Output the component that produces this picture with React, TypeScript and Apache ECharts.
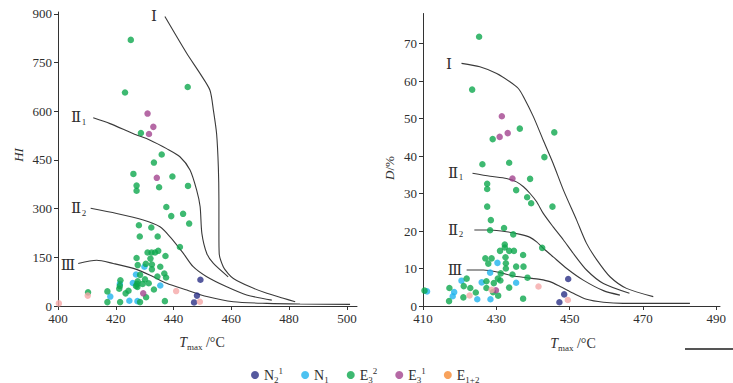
import React, { useEffect, useRef } from 'react';
import * as echarts from 'echarts';

// ---------- data ----------
const groupNames = ['N2¹', 'N1', 'E3²', 'E3¹', 'E1+2'];
const pointColors = ['#2b2f86', '#1fb3ee', '#0ea84e', '#a2438e', '#f5a8a8'];
const legendColors = ['#2b2f86', '#1fb3ee', '#0ea84e', '#a2438e', '#f68b33'];

// Left: HI vs Tmax
const hiN21 = [[449.3, 81], [448.1, 32], [447.1, 11]];
const hiN1 = [[427.0, 97], [429.9, 121], [425.9, 71], [421.4, 68], [435.4, 63], [418.1, 29], [424.7, 16], [427.5, 15]];
const hiE32 = [
  [425.2, 820], [423.2, 658], [444.9, 675], [428.7, 533], [435.9, 467], [433.2, 442], [426.1, 407], [439.6, 399],
  [427.2, 371], [427.2, 355], [435.0, 366], [445.0, 370], [437.5, 305], [443.3, 284], [439.2, 277], [445.4, 254],
  [428.0, 249], [432.3, 242], [428.3, 214], [434.5, 214], [442.2, 182], [431.0, 165], [432.4, 165], [433.6, 165],
  [434.7, 170], [437.2, 154], [427.2, 148], [432.0, 146], [435.4, 121], [432.5, 128], [427.6, 126], [430.4, 130],
  [432.5, 113], [436.8, 100], [428.4, 96], [434.4, 91], [437.4, 88], [430.1, 82], [421.6, 79], [427.6, 76],
  [431.4, 70], [429.3, 68], [427.4, 68], [427.5, 59], [427.0, 62], [421.4, 62], [421.2, 53], [433.2, 51],
  [424.4, 47], [423.4, 39], [417.1, 45], [410.4, 42], [430.5, 27], [417.1, 12], [421.5, 12], [428.4, 12], [437.0, 15]
];
const hiE31 = [[431.0, 593], [433.0, 552], [431.5, 530], [434.2, 395], [429.5, 39]];
const hiE12 = [[400.3, 8], [410.3, 32], [440.9, 46], [449.1, 13]];

// Right: D vs Tmax
const dN21 = [[449.6, 7.2], [448.5, 3.1], [447.2, 1.0]];
const dN1 = [[430.3, 11.5], [428.3, 8.9], [420.5, 6.75], [426.0, 6.3], [435.4, 6.2], [411.1, 3.9], [418.5, 3.7], [418.1, 2.6], [424.8, 1.8], [428.4, 1.8]];
const dE32 = [
  [425.3, 71.8], [423.4, 57.7], [436.4, 47.3], [445.8, 46.3], [429.0, 44.5], [443.1, 39.7], [426.2, 37.8], [433.5, 38.2],
  [439.2, 33.9], [427.5, 32.6], [427.5, 31.2], [435.4, 30.9], [438.4, 29.0], [439.5, 27.4], [445.3, 26.5], [427.5, 26.5],
  [428.5, 22.9], [432.1, 20.8], [428.3, 20.2], [434.6, 19.1], [442.5, 15.5], [432.3, 16.4], [432.3, 15.6], [431.0, 14.7],
  [433.5, 14.7], [434.8, 14.7], [437.3, 13.6], [427.0, 12.7], [428.7, 12.7], [432.5, 13.0], [432.6, 11.4], [427.8, 11.3],
  [437.4, 10.5], [435.4, 10.5], [432.6, 10.0], [431.2, 8.7], [434.4, 8.4], [438.5, 7.55], [430.4, 7.3], [431.1, 6.8],
  [427.3, 6.6], [421.9, 7.3], [429.3, 6.1], [421.1, 5.3], [417.2, 4.8], [422.9, 4.8], [427.3, 4.8], [433.5, 4.9],
  [410.4, 4.1], [429.1, 3.7], [424.4, 3.6], [430.5, 2.75], [421.0, 2.3], [437.3, 1.95], [417.1, 1.3]
];
const dE31 = [[431.5, 50.6], [433.1, 46.1], [430.9, 45.1], [434.4, 34.0], [429.9, 4.2]];
const dE12 = [[422.7, 2.8], [441.5, 5.2], [449.5, 1.6], [428.7, 4.3]];

// Boundary curves
const hiCurveI = [[437.0, 892], [444.6, 778], [449.2, 716], [452.6, 665], [453.8, 603], [454.9, 531], [455.5, 429], [455.7, 326], [455.7, 224], [455.8, 162], [457.2, 121], [458.9, 100], [460.7, 85], [466.5, 59], [472.3, 39], [478.0, 24], [482.1, 13]];
const hiCurveII1 = [[412.2, 580], [418.0, 562], [426.1, 531], [431.9, 511], [437.6, 485], [442.2, 460], [445.7, 419], [448.0, 357], [449.2, 306], [449.8, 224], [451.5, 162], [453.8, 131], [458.9, 90]];
const hiCurveII2 = [[411.3, 301], [420.3, 285], [429.5, 265], [435.3, 244], [438.8, 213], [443.4, 162], [446.8, 121], [451.5, 90], [458.4, 59], [465.3, 34], [474.0, 18]];
const hiCurveIII = [[407.0, 131], [413.4, 141], [419.1, 131], [426.1, 116], [431.9, 95], [437.6, 70], [444.6, 49], [451.5, 29], [460.7, 13], [472.3, 8], [483.8, 6], [501.1, 5]];

const dCurveI = [[420.5, 64.7], [425.5, 63.8], [430.1, 62.0], [433.7, 59.8], [436.0, 58.0], [437.4, 55.8], [440.1, 50.5], [442.8, 44.2], [445.5, 38.0], [448.3, 30.9], [451.9, 22.9], [454.6, 16.7], [457.4, 12.3], [461.0, 7.8], [465.5, 4.7], [472.8, 2.5]];
const dCurveII1 = [[423.5, 35.4], [428.3, 34.6], [432.8, 34.0], [435.5, 33.1], [437.4, 31.8], [439.2, 30.0], [441.0, 27.8], [442.8, 24.7], [445.5, 21.1], [448.3, 17.6], [451.0, 14.0], [454.6, 9.6], [459.2, 6.0], [466.3, 3.4]];
const dCurveII2 = [[424.0, 20.25], [428.3, 20.25], [432.8, 19.8], [436.5, 19.1], [439.2, 18.3], [441.0, 17.1], [442.8, 15.4], [445.5, 13.1], [449.2, 10.0], [453.7, 6.9], [459.2, 4.1], [463.7, 2.9]];
const dCurveIII = [[421.9, 9.6], [426.5, 9.6], [431.0, 8.9], [434.6, 8.0], [438.3, 7.55], [441.9, 7.1], [444.6, 6.5], [447.4, 5.2], [451.0, 3.4], [454.6, 1.8], [459.2, 1.0], [464.6, 0.7], [482.8, 0.7]];

const hiTicksX = [400, 420, 440, 460, 480, 500];
const hiTicksY = [0, 150, 300, 450, 600, 750, 900];
const dTicksX = [410, 430, 450, 470, 490];
const dTicksY = [0, 10, 20, 30, 40, 50, 60, 70];

const legendRich: Record<string, string> = {
  'N2¹': '{m|N}{sb|2}{sp|1}',
  'N1': '{m|N}{sb|1}',
  'E3²': '{m|E}{sb|3}{sp|2}',
  'E3¹': '{m|E}{sb|3}{sp|1}',
  'E1+2': '{m|E}{sb|1+2}',
};

const SERIF = "'Liberation Serif', 'DejaVu Serif', serif";
const TXT = '#2e2e2e';

export default function App() {
  const ref = useRef<HTMLDivElement>(null);
  useEffect(() => {
    if (!ref.current) return;
    const chart = echarts.init(ref.current, undefined, { renderer: 'svg' });

    const axisCommon = {
      type: 'value' as const,
      axisLine: { show: true, lineStyle: { color: '#333', width: 1 } },
      axisTick: { show: true, length: 4, lineStyle: { color: '#333' } },
      splitLine: { show: false },
      axisLabel: { color: TXT, fontFamily: SERIF, fontSize: 13, margin: 6 },
    };

    const hiGroups = [hiN21, hiN1, hiE32, hiE31, hiE12];
    const dGroups = [dN21, dN1, dE32, dE31, dE12];
    const scatter: any[] = [];
    groupNames.forEach((name, i) => {
      scatter.push({ name, type: 'scatter', xAxisIndex: 0, yAxisIndex: 0, data: hiGroups[i], symbolSize: 6.5, itemStyle: { color: pointColors[i] } });
      scatter.push({ name, type: 'scatter', xAxisIndex: 1, yAxisIndex: 1, data: dGroups[i], symbolSize: 6.5, itemStyle: { color: pointColors[i] } });
    });
    const curve = (data: number[][], axis: number) => ({
      type: 'line', xAxisIndex: axis, yAxisIndex: axis, data, symbol: 'none', silent: true,
      smooth: 0.25, lineStyle: { color: '#3a3a3a', width: 1.1 }, z: 1,
    });
    const lines = [
      curve(hiCurveI, 0), curve(hiCurveII1, 0), curve(hiCurveII2, 0), curve(hiCurveIII, 0),
      curve(dCurveI, 1), curve(dCurveII1, 1), curve(dCurveII2, 1), curve(dCurveIII, 1),
    ];

    const roman = (text: string, x: number, y: number) => ({
      type: 'text', x, y,
      style: { text, fill: TXT, font: `15px ${SERIF}`, textAlign: 'center', textVerticalAlign: 'middle' },
    });
    const sub = (text: string, x: number, y: number) => ({
      type: 'text', x, y,
      style: { text, fill: TXT, font: `9px ${SERIF}`, textAlign: 'center', textVerticalAlign: 'middle' },
    });
    const tmax = (cx: number, cy: number) => ({
      type: 'text', x: cx, y: cy,
      style: {
        text: '{t|T}{s|max}{n| /°C}', textAlign: 'center', textVerticalAlign: 'middle',
        rich: {
          t: { fontFamily: SERIF, fontStyle: 'italic', fontSize: 14, fill: TXT, lineHeight: 18 },
          s: { fontFamily: SERIF, fontSize: 9, fill: TXT, lineHeight: 10, verticalAlign: 'bottom' },
          n: { fontFamily: SERIF, fontSize: 14, fill: TXT, lineHeight: 18 },
        },
      },
    });

    chart.setOption({
      animation: false,
      backgroundColor: '#ffffff',
      grid: [
        { left: 58, top: 12, width: 299, height: 294 },
        { left: 423, top: 13.5, width: 297, height: 292.5 },
      ],
      xAxis: [
        { ...axisCommon, gridIndex: 0, min: 400, max: 503.5, interval: 20,
          axisLabel: { ...axisCommon.axisLabel, customValues: hiTicksX }, axisTick: { ...axisCommon.axisTick, customValues: hiTicksX } },
        { ...axisCommon, gridIndex: 1, min: 410, max: 491, interval: 20,
          axisLabel: { ...axisCommon.axisLabel, customValues: dTicksX }, axisTick: { ...axisCommon.axisTick, customValues: dTicksX } },
      ],
      yAxis: [
        { ...axisCommon, gridIndex: 0, min: 0, max: 906, interval: 150,
          axisLabel: { ...axisCommon.axisLabel, customValues: hiTicksY }, axisTick: { ...axisCommon.axisTick, customValues: hiTicksY } },
        { ...axisCommon, gridIndex: 1, min: 0, max: 78, interval: 10,
          axisLabel: { ...axisCommon.axisLabel, customValues: dTicksY }, axisTick: { ...axisCommon.axisTick, customValues: dTicksY } },
      ],
      legend: {
        left: 246, top: 361, orient: 'horizontal', icon: 'circle', itemWidth: 8, itemHeight: 8, itemGap: 18,
        selectedMode: false,
        data: groupNames.map((name, i) => ({ name, itemStyle: { color: legendColors[i] } })),
        formatter: (name: string) => legendRich[name] || name,
        textStyle: {
          color: TXT, fontFamily: SERIF, fontSize: 14,
          rich: {
            m: { fontFamily: SERIF, fontSize: 14, color: TXT, lineHeight: 18 },
            sb: { fontFamily: SERIF, fontSize: 9, color: TXT, lineHeight: 10, verticalAlign: 'bottom' },
            sp: { fontFamily: SERIF, fontSize: 9, color: TXT, lineHeight: 10, verticalAlign: 'top' },
          },
        },
      },
      series: [...lines, ...scatter],
      graphic: [
        roman('Ⅰ', 154, 16), roman('Ⅱ', 76, 117), sub('1', 84, 122), roman('Ⅱ', 76, 208), sub('2', 84, 213), roman('Ⅲ', 68, 265),
        roman('Ⅰ', 449, 64), roman('Ⅱ', 453, 173), sub('1', 461, 177), roman('Ⅱ', 453, 230), sub('2', 461, 234), roman('Ⅲ', 455, 270),
        { type: 'text', x: 18, y: 155, rotation: Math.PI / 2,
          style: { text: 'HI', fill: TXT, font: `italic 13px ${SERIF}`, textAlign: 'center', textVerticalAlign: 'middle' } },
        { type: 'text', x: 389, y: 168, rotation: Math.PI / 2,
          style: { text: '{d|D}{p|/%}', textAlign: 'center', textVerticalAlign: 'middle',
            rich: { d: { fontFamily: SERIF, fontStyle: 'italic', fontSize: 13, fill: TXT }, p: { fontFamily: SERIF, fontSize: 13, fill: TXT } } } },
        tmax(202, 342), tmax(573, 343),
        { type: 'line', shape: { x1: 685, y1: 349, x2: 733, y2: 349 }, style: { stroke: '#555', lineWidth: 2 } },
      ],
    });
    return () => chart.dispose();
  }, []);
  return <div ref={ref} style={{ position: 'absolute', left: 0, top: 0, width: 733, height: 383 }} />;
}
